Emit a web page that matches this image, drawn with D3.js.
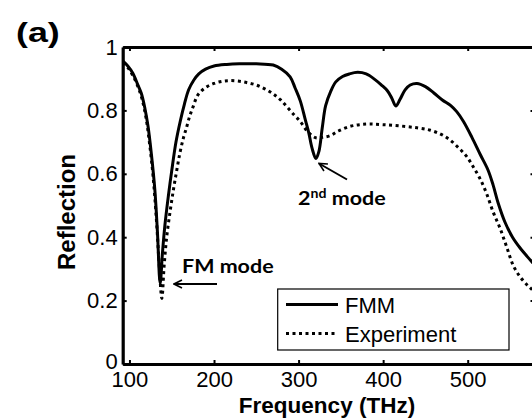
<!DOCTYPE html>
<html>
<head>
<meta charset="utf-8">
<script src="https://cdn.jsdelivr.net/npm/d3@7/dist/d3.min.js"></script>
<style>
  html, body { margin: 0; padding: 0; background: #fff; }
  svg { display: block; }
  .tick-label { font-family: "Liberation Sans", Arial, sans-serif; font-size: 22px; fill: #000; }
  .axis-title { font-family: "Liberation Sans", Arial, sans-serif; font-weight: bold; fill: #000; }
  .note { font-family: Lato, "Open Sans", sans-serif; font-size: 19px; font-weight: bold; fill: #000; }
</style>
</head>
<body>
<svg id="chart" width="532" height="418"></svg>
<script>
// Reflection spectra: FMM simulation vs. measurement
const fmmFreq = [92, 98, 104, 110, 114, 118, 122, 126, 130, 133, 136.3, 139, 142, 146, 150, 155, 160, 165, 170, 176, 182, 190, 200, 215, 230, 250, 270, 280, 290, 296, 302, 308, 312, 316, 320.5, 324, 328, 332, 338, 344, 352, 360, 370, 380, 390, 398, 405, 410, 415, 420, 426, 432, 440, 450, 460, 470, 480, 487, 495, 505, 515, 524, 530, 536, 544, 553, 562, 574, 580];
const fmmRefl = [0.956, 0.94, 0.917, 0.88, 0.854, 0.81, 0.749, 0.66, 0.55, 0.42, 0.254, 0.35, 0.44, 0.53, 0.61, 0.70, 0.765, 0.82, 0.865, 0.895, 0.915, 0.93, 0.94, 0.945, 0.947, 0.947, 0.943, 0.93, 0.906, 0.87, 0.83, 0.77, 0.73, 0.68, 0.648, 0.67, 0.745, 0.815, 0.86, 0.89, 0.907, 0.915, 0.92, 0.915, 0.898, 0.88, 0.862, 0.84, 0.814, 0.835, 0.865, 0.88, 0.885, 0.875, 0.855, 0.833, 0.815, 0.796, 0.765, 0.715, 0.66, 0.612, 0.565, 0.508, 0.448, 0.40, 0.366, 0.328, 0.31];

const expFreq = [92, 98, 104, 110, 115, 120, 124, 128, 132, 135, 138.3, 141, 144, 148, 152, 156, 160, 164, 167.4, 171, 175.3, 181, 190, 200, 210, 219, 230, 240, 250, 260, 270, 278, 286, 295, 302, 310, 317, 321.5, 328, 337, 347, 360, 372, 384.5, 400, 420, 440, 455, 468, 479, 490, 499, 507, 514.5, 522, 530, 538, 546, 554, 562, 570, 574, 580];
const expRefl = [0.95, 0.935, 0.91, 0.875, 0.835, 0.77, 0.69, 0.59, 0.45, 0.32, 0.207, 0.31, 0.40, 0.48, 0.55, 0.612, 0.67, 0.715, 0.745, 0.78, 0.812, 0.849, 0.872, 0.885, 0.892, 0.894, 0.892, 0.887, 0.88, 0.868, 0.852, 0.835, 0.812, 0.785, 0.765, 0.735, 0.718, 0.713, 0.715, 0.72, 0.735, 0.749, 0.755, 0.757, 0.755, 0.751, 0.745, 0.738, 0.725, 0.707, 0.68, 0.654, 0.62, 0.585, 0.54, 0.48, 0.43, 0.37, 0.31, 0.275, 0.25, 0.24, 0.225];

const xTicks = [100, 200, 300, 400, 500];
const yTicks = [0, 0.2, 0.4, 0.6, 0.8, 1];
const yTickLabels = ["0", "0.2", "0.4", "0.6", "0.8", "1"];
const seriesNames = ["FMM", "Experiment"];

const svg = d3.select("#chart");
const plotLeft = 122.7, plotRight = 534.5, plotTop = 47, plotBottom = 364;

const x = d3.scaleLinear().domain([92, 579]).range([plotLeft, plotRight]);
const y = d3.scaleLinear().domain([0, 1]).range([plotBottom, plotTop]);

const defs = svg.append("defs");
// clip for the curves
defs.append("clipPath").attr("id", "plotClip")
  .append("rect").attr("x", plotLeft).attr("y", plotTop)
  .attr("width", plotRight - plotLeft).attr("height", plotBottom - plotTop);

const line = d3.line()
  .x(d => x(d[0]))
  .y(d => y(d[1]))
  .curve(d3.curveCatmullRom.alpha(0.5));

const fmmData = fmmFreq.map((f, i) => [f, fmmRefl[i]]);
const expData = expFreq.map((f, i) => [f, expRefl[i]]);

const plot = svg.append("g").attr("clip-path", "url(#plotClip)");
plot.append("path").datum(expData)
  .attr("d", line).attr("fill", "none").attr("stroke", "#000")
  .attr("stroke-width", 3).attr("stroke-dasharray", "3 3.5");
plot.append("path").datum(fmmData)
  .attr("d", line).attr("fill", "none").attr("stroke", "#000")
  .attr("stroke-width", 3);

// axes with inward ticks on all four sides
const tickLen = 4;
const axB = d3.axisBottom(x).tickValues(xTicks).tickSizeInner(-tickLen).tickSizeOuter(0).tickFormat(d3.format("d"));
const axT = d3.axisTop(x).tickValues(xTicks).tickSizeInner(-tickLen).tickSizeOuter(0).tickFormat("");
const axL = d3.axisLeft(y).tickValues(yTicks).tickSizeInner(-tickLen).tickSizeOuter(0).tickFormat((d, i) => yTickLabels[i]);
const axR = d3.axisRight(y).tickValues(yTicks).tickSizeInner(-tickLen).tickSizeOuter(0).tickFormat("");

function styleAxis(g) {
  g.attr("font-size", null).attr("font-family", null);
  g.select(".domain").attr("stroke", "#000").attr("stroke-width", 3.2);
  g.selectAll(".tick line").attr("stroke", "#000").attr("stroke-width", 2);
  g.selectAll(".tick text").attr("class", "tick-label");
}

const gB = svg.append("g").attr("transform", `translate(0,${plotBottom})`).call(axB).call(styleAxis);
gB.selectAll(".tick text").attr("y", 7.5).attr("dy", "0.71em");
svg.append("g").attr("transform", `translate(0,${plotTop})`).call(axT).call(styleAxis);
const gL = svg.append("g").attr("transform", `translate(${plotLeft},0)`).call(axL).call(styleAxis);
gL.selectAll(".tick text").attr("x", -5);
// the "0" label sits a little high, clear of the "100" below it
gL.selectAll(".tick text").filter(d => d === 0).attr("dy", "0.2em");
svg.append("g").attr("transform", `translate(${plotRight},0)`).call(axR).call(styleAxis);

// axis titles
svg.append("text").attr("class", "axis-title")
  .attr("x", 327).attr("y", 413).attr("text-anchor", "middle")
  .attr("font-size", 22.5)
  .text("Frequency (THz)");
svg.append("text").attr("class", "axis-title")
  .attr("transform", `translate(75,212) rotate(-90)`)
  .attr("text-anchor", "middle")
  .attr("font-size", 24)
  .text("Reflection");

// panel label
svg.append("text")
  .attr("transform", "translate(16,42) scale(1.28,1)")
  .attr("font-family", "'Liberation Sans', Arial, sans-serif")
  .attr("font-size", 28).attr("font-weight", "bold")
  .text("(a)");

// legend
const lg = svg.append("g");
lg.append("rect").attr("x", 277.7).attr("y", 289).attr("width", 231.3).attr("height", 61)
  .attr("fill", "#fff").attr("stroke", "#000").attr("stroke-width", 1.2);
lg.append("line").attr("x1", 286).attr("x2", 338).attr("y1", 304.5).attr("y2", 304.5)
  .attr("stroke", "#000").attr("stroke-width", 3);
lg.append("line").attr("x1", 286).attr("x2", 338).attr("y1", 333.5).attr("y2", 333.5)
  .attr("stroke", "#000").attr("stroke-width", 3).attr("stroke-dasharray", "3 3.5");
lg.append("text").attr("class", "tick-label").attr("x", 345).attr("y", 313).text(seriesNames[0]);
lg.append("text").attr("class", "tick-label").attr("x", 345).attr("y", 342).text(seriesNames[1]);

// annotations with arrows
defs.append("marker").attr("id", "head").attr("viewBox", "0 0 10 10")
  .attr("refX", 9).attr("refY", 5).attr("markerWidth", 5).attr("markerHeight", 5)
  .attr("orient", "auto").attr("markerUnits", "strokeWidth")
  .append("path").attr("d", "M1,1 L9,5 L1,9").attr("fill", "none").attr("stroke", "#000").attr("stroke-width", 1.6);

svg.append("line").attr("x1", 217).attr("y1", 284).attr("x2", 174).attr("y2", 284)
  .attr("stroke", "#000").attr("stroke-width", 2).attr("marker-end", "url(#head)");
svg.append("text").attr("class", "note")
  .attr("transform", "translate(182,273) scale(1.13,1)").text("FM mode");

svg.append("line").attr("x1", 347).attr("y1", 179.5).attr("x2", 319).attr("y2", 163.5)
  .attr("stroke", "#000").attr("stroke-width", 2).attr("marker-end", "url(#head)");
const t2 = svg.append("text").attr("class", "note")
  .attr("transform", "translate(298,205) scale(1.13,1)");
t2.append("tspan").text("2");
t2.append("tspan").attr("dy", -7).attr("font-size", 12.5).text("nd");
t2.append("tspan").attr("dy", 7).text(" mode");
</script>
</body>
</html>
